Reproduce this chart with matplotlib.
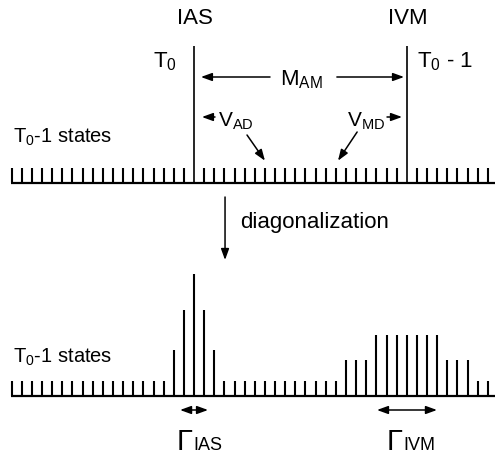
import matplotlib
matplotlib.use("Agg")
import matplotlib.pyplot as plt
import numpy as np

plt.rcParams["font.family"] = ["Liberation Sans", "DejaVu Sans"]
plt.rcParams["mathtext.fontset"] = "custom"
plt.rcParams["mathtext.rm"] = "Liberation Sans"
plt.rcParams["mathtext.it"] = "Liberation Sans:italic"

# states along the ladder (T0-1 states), index 0..47
states = np.arange(48)
ias_state = 18
ivm_state = 39

# tick height (px) of each zero-order state before coupling
top_heights = [15] * 48
# after diagonalization: intensity borrowed from IAS and IVM
bottom_heights = [15, 15, 15, 15, 15, 15, 15, 15, 15, 15, 15, 15, 15, 15, 15, 15,
                  46, 86, 122, 86, 46,
                  15, 15, 15, 15, 15, 15, 15, 15, 15, 15, 15, 15,
                  36, 36, 36,
                  61, 61, 61, 61, 61, 61, 61,
                  36, 36, 36,
                  15, 15]

top_base = 182.5
bot_base = 395.5
line_top = 46

fig = plt.figure(figsize=(4.95, 4.59), dpi=100)
ax = fig.add_axes([0, 0, 1, 1])
ax.set_xlim(-1.155, 47.71)
ax.set_ylim(459, 0)
ax.axis("off")

arrow = dict(arrowstyle="-|>,head_length=0.55,head_width=0.2", lw=1.1,
             color="k", shrinkA=0, shrinkB=0, mutation_scale=12)
darrow = dict(arrowstyle="<|-|>,head_length=0.55,head_width=0.2", lw=1.1,
              color="k", shrinkA=0, shrinkB=0, mutation_scale=12)

# --- upper ladder ---
small = [s for s in states if s not in (ias_state, ivm_state)]
top_h = np.array([top_heights[s] for s in small])
ax.vlines(small, top_base - top_h, top_base, color="k", lw=1.5)
ax.vlines([ias_state, ivm_state], line_top, top_base, color="k", lw=1.2)
ax.hlines(top_base, -0.05, 47.7, color="k", lw=1.6)

ax.text(ias_state + 0.1, 24, "IAS", fontsize=16, ha="center", va="baseline")
ax.text(ivm_state + 0.1, 24, "IVM", fontsize=16, ha="center", va="baseline")
ax.text(ias_state - 1.68, 67, r"$\mathrm{T_0}$", fontsize=16, ha="right", va="baseline")
ax.text(ivm_state + 1.0, 67, r"$\mathrm{T_0}$ - 1", fontsize=16, ha="left", va="baseline")

# M_AM coupling
ax.text(28.6, 85, r"$\mathrm{M_{AM}}$", fontsize=16, ha="center", va="baseline")
ax.annotate("", xy=(18.68, 77), xytext=(25.5, 77), arrowprops=arrow)
ax.annotate("", xy=(38.73, 77), xytext=(32.1, 77), arrowprops=arrow)

# V_AD / V_MD couplings
ax.annotate("", xy=(18.78, 117), xytext=(20.07, 117), arrowprops=arrow)
ax.text(20.37, 127, r"$\mathrm{V_{AD}}$", fontsize=15, ha="left", va="baseline")
ax.annotate("", xy=(38.53, 117), xytext=(37.05, 117), arrowprops=arrow)
ax.text(36.85, 127, r"$\mathrm{V_{MD}}$", fontsize=15, ha="right", va="baseline")
ax.annotate("", xy=(25.0, 160.7), xytext=(23.23, 135), arrowprops=arrow)
ax.annotate("", xy=(32.21, 160.7), xytext=(34.1, 132), arrowprops=arrow)

ax.text(0.1, 143, r"$\mathrm{T_0}$-1 states", fontsize=14.5, ha="left", va="baseline")

# diagonalization step
ax.annotate("", xy=(21.06, 260), xytext=(21.06, 197), arrowprops=arrow)
ax.text(22.54, 228, "diagonalization", fontsize=16, ha="left", va="baseline")

# --- lower ladder ---
ax.vlines(states, bot_base - np.array(bottom_heights), bot_base, color="k", lw=1.5)
ax.hlines(bot_base, -0.05, 47.7, color="k", lw=1.6)
ax.text(0.1, 363, r"$\mathrm{T_0}$-1 states", fontsize=14.5, ha="left", va="baseline")

# widths
ax.annotate("", xy=(16.62, 410), xytext=(19.38, 410), arrowprops=darrow)
ax.text(16.32, 450, "Γ", fontsize=21, ha="left", va="baseline")
ax.text(17.95, 450, "IAS", fontsize=13, ha="left", va="baseline")
ax.annotate("", xy=(36.06, 410), xytext=(41.98, 410), arrowprops=darrow)
ax.text(37.05, 450, "Γ", fontsize=21, ha="left", va="baseline")
ax.text(38.68, 450, "IVM", fontsize=13, ha="left", va="baseline")

fig.savefig("out.png", dpi=100)
